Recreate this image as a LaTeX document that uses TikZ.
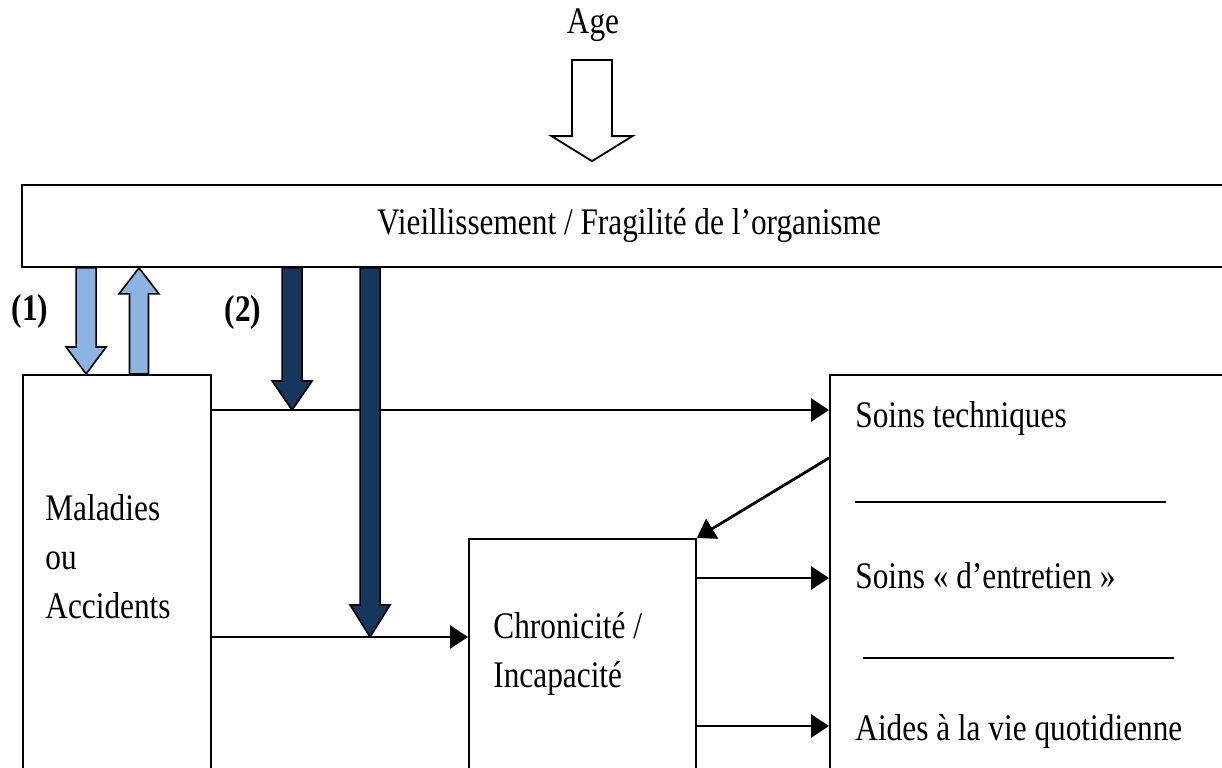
\documentclass[tikz,border=0pt]{standalone}
\usepackage{fontspec}
\setmainfont{Liberation Serif}[FakeStretch=0.835]
\usepackage{tikz}
\usetikzlibrary{arrows.meta, positioning, calc}

\definecolor{lightarrow}{HTML}{8DB3E2}
\definecolor{darkarrow}{HTML}{17365D}

% vertical block arrow: style, tail, tip, shaft half width, head half width, head length
\newcommand{\blockarrow}[6]{%
  \path[#1] let \p1=(#2), \p2=(#3), \n1={sign(\y2-\y1)} in
    ({\x1-#4},\y1) -- ({\x1-#4},{\y2-(\n1)*#6}) -- ({\x1-#5},{\y2-(\n1)*#6}) -- (\x1,\y2)
    -- ({\x1+#5},{\y2-(\n1)*#6}) -- ({\x1+#4},{\y2-(\n1)*#6}) -- ({\x1+#4},\y1) -- cycle;}

\begin{document}
\begin{tikzpicture}[x=0.5pt, y=-0.5pt,
    % Box style - plain rectangles, sized per node
    box/.style={rectangle, draw, line width=0.9pt, inner sep=0pt},
    % Text style
    txt/.style={font=\fontsize{18.75}{24.5}\selectfont, inner sep=0pt},
    % Numbered path label
    numlbl/.style={font=\fontsize{18.75}{24.5}\selectfont\bfseries, inner sep=0pt},
    % Thin connector
    link/.style={-{Triangle[length=9pt, width=11.5pt]}, line width=1.4pt},
    % Block arrow styles
    lightarr/.style={draw, line width=0.8pt, fill=lightarrow},
    darkarr/.style={draw, line width=0.8pt, fill=darkarrow},
    hollowarr/.style={draw, line width=0.9pt, fill=white},
    % Separator rule in the care box
    seprule/.style={line width=1pt}
]
    \useasboundingbox (0,0) rectangle (1222,767);
    \clip (0,0) rectangle (1222,767);

    % Age (top)
    \node[txt, anchor=base] (age) at (593,33) {Age};

    % Ageing band
    \node[box, txt, minimum width=607pt, minimum height=41pt] (vieil) at (629,226)
        {Vieillissement / Fragilité de l’organisme};

    % Three lower boxes
    \node[box, minimum width=94pt, minimum height=225pt, anchor=north west] (mal) at (22,374) {};
    \node[box, minimum width=113.5pt, minimum height=150pt, anchor=north west] (chr) at (468,538) {};
    \node[box, minimum width=215.5pt, minimum height=225pt, anchor=north west] (soins) at (829,374) {};

    % Box texts (base = last line)
    \node[txt, anchor=base west, align=left] (maltxt) at ($(mal.north west)+(23,244)$) {Maladies\\ou\\Accidents};
    \node[txt, anchor=base west, align=left] (chrtxt) at ($(chr.north west)+(25,149)$) {Chronicité /\\Incapacité};
    \node[txt, anchor=base west] (tech) at ($(soins.north west)+(26,53)$) {Soins techniques};
    \node[txt, anchor=base west] (entr) at ($(soins.north west)+(26,214)$) {Soins « d’entretien »};
    \node[txt, anchor=base west] (aide) at ($(soins.north west)+(26,366)$) {Aides à la vie quotidienne};
    \draw[seprule] ($(soins.north west)+(26,128)$) -- ++(311,0);
    \draw[seprule] ($(soins.north west)+(34,284)$) -- ++(311,0);

    % Path labels
    \node[numlbl] (n1) at (30,311) {(1)};
    \node[numlbl] (n2) at (243,312) {(2)};

    % Connectors between boxes
    \coordinate (m1) at ($(mal.north east)+(0,36)$);
    \coordinate (m2) at ($(mal.north east)+(0,263)$);
    \coordinate (c1) at ($(chr.north east)+(0,40)$);
    \coordinate (c2) at ($(chr.north east)+(0,188)$);
    \draw[link] (m1) -- (m1 -| soins.west);
    \draw[link] (m2) -- (m2 -| chr.west);
    \draw[link] (c1) -- (c1 -| soins.west);
    \draw[link] (c2) -- (c2 -| soins.west);
    \draw[link] ($(soins.north west)+(0,84)$) -- (chr.north east);

    % Block arrows
    \coordinate (agetop) at ($(age.base)+(-1,27)$);
    \coordinate (agetip) at ($(vieil.north)+(-37,-23)$);
    \coordinate (agetip) at (agetop |- agetip);
    \blockarrow{hollowarr}{agetop}{agetip}{10pt}{20.25pt}{12.5pt}

    \coordinate (l1top) at ($(vieil.south west)+(65,0)$);
    \coordinate (l1bot) at (l1top |- mal.north);
    \blockarrow{lightarr}{l1top}{l1bot}{5pt}{10pt}{13.5pt}
    \coordinate (l2bot) at ($(mal.north west)+(117,0)$);
    \coordinate (l2top) at (l2bot |- vieil.south);
    \blockarrow{lightarr}{l2bot}{l2top}{4.75pt}{10pt}{13pt}

    \coordinate (d1top) at ($(vieil.south west)+(271,0)$);
    \coordinate (d1tip) at (d1top |- m1);
    \blockarrow{darkarr}{d1top}{d1tip}{5pt}{10pt}{14.5pt}
    \coordinate (d2top) at ($(vieil.south west)+(349,0)$);
    \coordinate (d2tip) at (d2top |- m2);
    \blockarrow{darkarr}{d2top}{d2tip}{5pt}{10pt}{16pt}
\end{tikzpicture}
\end{document}
